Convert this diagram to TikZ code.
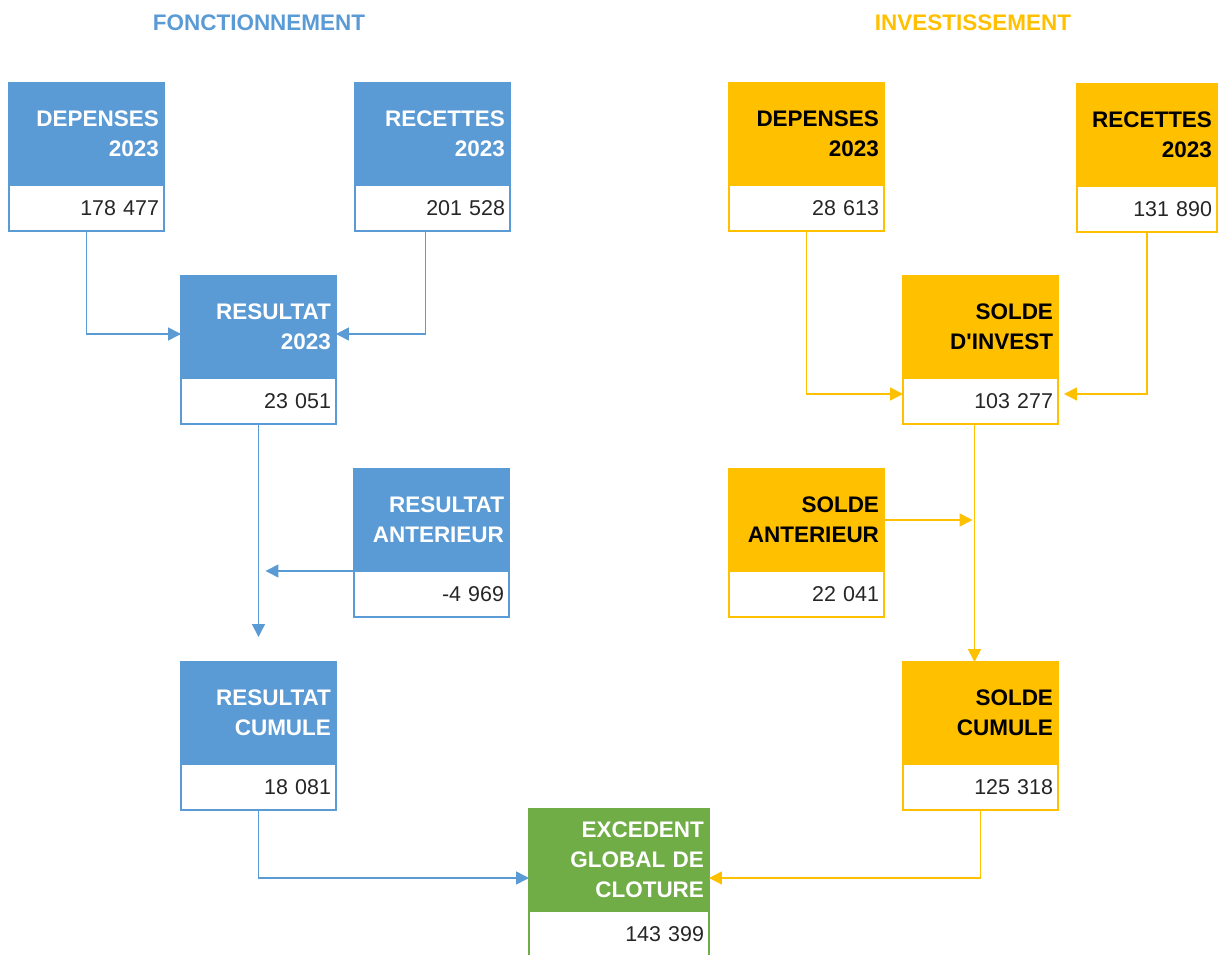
\documentclass[tikz,border=0pt]{standalone}
\usepackage{fontspec}
\setmainfont{Liberation Sans}
\usetikzlibrary{calc,arrows.meta}
\definecolor{fblue}{RGB}{91,155,213}
\definecolor{iyellow}{RGB}{255,192,0}
\definecolor{egreen}{RGB}{112,173,71}
% box = coloured header + white value row below it
\newcommand{\finbox}[8][3.1]{
    \pgfmathsetlengthmacro{\boxtw}{#1cm-0.2cm}
    \node (#2) at (#3,#4) [head=#5,text=#6,minimum width=#1cm,text width=\boxtw] {#7};
    \node (#2 val) at (#2.south west) [val=#5,minimum width=#1cm,text width=\boxtw] {#8};
}

\begin{document}
\begin{tikzpicture}[x=0.02cm,y=-0.02cm,
    every node/.style={outer sep=0pt,inner xsep=0.1cm},
    head/.style={fill=#1,draw=#1,line width=1pt,anchor=north west,minimum height=2.04cm,align=right,font=\fontsize{12.8}{17}\selectfont\bfseries},
    val/.style={fill=white,draw=#1,line width=1pt,anchor=north west,minimum height=0.92cm,align=right,text=black!85,font=\fontsize{12.2}{14}\selectfont},
    title/.style={font=\fontsize{12.8}{15}\selectfont\bfseries}]

\tikzstyle{fline}=[fblue,line width=0.9pt,-{Triangle[length=0.26cm,width=0.26cm]}]
\tikzstyle{iline}=[iyellow,line width=0.9pt,-{Triangle[length=0.26cm,width=0.26cm]}]

\useasboundingbox (0,0) rectangle (1219,954);

% titles
\node[title,text=fblue] (ftitle) at (259,23) {FONCTIONNEMENT};
\node[title,text=iyellow] (ititle) at (973,23) {INVESTISSEMENT};

% fonctionnement
\finbox{fdep}{9}{83}{fblue}{white}{DEPENSES\\2023}{178 477}
\finbox{frec}{355}{83}{fblue}{white}{RECETTES\\2023}{201 528}
\finbox{fres}{181}{276}{fblue}{white}{RESULTAT\\2023}{23 051}
\finbox{fant}{354}{469}{fblue}{white}{RESULTAT\\ANTERIEUR}{-4 969}
\finbox{fcum}{181}{662}{fblue}{white}{RESULTAT\\CUMULE}{18 081}

% investissement
\finbox{idep}{729}{83}{iyellow}{black}{DEPENSES\\2023}{28 613}
\finbox[2.8]{irec}{1077}{84}{iyellow}{black}{RECETTES\\2023}{131 890}
\finbox{isol}{903}{276}{iyellow}{black}{SOLDE\\D\textquotesingle INVEST}{103 277}
\finbox{iant}{729}{469}{iyellow}{black}{SOLDE\\ANTERIEUR}{22 041}
\finbox{icum}{903}{662}{iyellow}{black}{SOLDE\\CUMULE}{125 318}

% total
\finbox[3.6]{exc}{529}{809}{egreen}{white}{EXCEDENT\\GLOBAL DE\\CLOTURE}{143 399}

% arrows fonctionnement
\draw[fline] (fdep val.south) |- ($(fres.west)+(0,7)$);
\draw[fline] ($(frec val.south)+(-7,0)$) |- ($(fres.east)+(0,7)$);
\coordinate (fjoin) at ($(fres val.south |- fcum.north)+(0,-25)$);
\draw[fline] (fres val.south) -- (fjoin);
\coordinate (fmerge) at ($(fjoin |- fant.south west)+(7,0)$);
\draw[fline] (fant.south west) -- (fmerge);
\draw[fline] (fcum val.south) |- ($(exc.west)+(0,18)$);

% arrows investissement
\draw[iline] (idep val.south) |- ($(isol val.west)+(0,-7)$);
\draw[iline] (irec val.south) |- ($(isol val.east)+(6,-7)$);
\draw[iline] ($(isol val.south)+(-6,0)$) -- ($(icum.north)+(-6,0)$);
\coordinate (imerge) at ($(iant.east -| isol val.south)+(-8,0)$);
\draw[iline] (iant.east) -- (imerge);
\draw[iline] (icum val.south) |- ($(exc.east)+(0,18)$);
\end{tikzpicture}
\end{document}
